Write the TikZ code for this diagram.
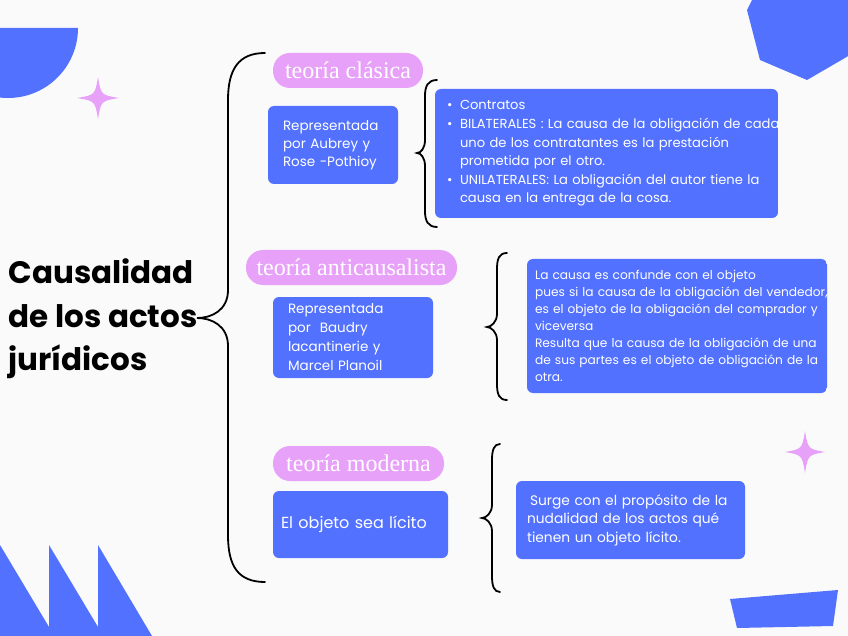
\documentclass[tikz,border=0pt]{standalone}
\usepackage{fontspec}
\setmainfont{Poppins}
\newfontfamily\labelfont{Liberation Serif}
\usepackage{tikz}
\usetikzlibrary{positioning}
\definecolor{bgcol}{HTML}{FAFAFA}
\definecolor{boxblue}{HTML}{5271FF}
\definecolor{labelpink}{HTML}{E8A1F8}

\begin{document}
\begin{tikzpicture}[
		x=1pt, y=-1pt,
		theory/.style={fill=labelpink, rounded corners=17pt, minimum height=35pt, inner sep=0pt, text=white, font=\labelfont\fontsize{24}{24}\selectfont},
		info/.style={fill=boxblue, rounded corners=6pt, text=white, align=left, inner ysep=0pt},
		brace/.style={draw=black, line width=1.8pt, line cap=round},
		deco/.style={fill=boxblue},
		sparkle/.style={fill=labelpink}
	]
	\useasboundingbox (0,0) rectangle (848,636);
	\fill[bgcol] (0,0) rectangle (848,636);

	% Decorations
	\begin{scope}
		\clip (0,0) rectangle (848,636);
		\fill[deco] (78,28) arc[start angle=0, end angle=180, radius=70] -- cycle;
		\fill[deco] (752,0) -- (747,10) -- (760,60) -- (807,80) -- (850,55) -- (850,0) -- cycle;
		\fill[deco] (0,545) -- (49,627) -- (49,545) -- (98,627) -- (98,545) -- (152,636) -- (0,636) -- cycle;
		\fill[deco] (730,599) -- (838,590) -- (833,626) -- (737,628) -- cycle;
		\fill[sparkle, shift={(98,98)}] (0,-21) .. controls (3,-3) .. (21,0) .. controls (3,3) .. (0,21) .. controls (-3,3) .. (-21,0) .. controls (-3,-3) .. (0,-21) -- cycle;
		\fill[sparkle, shift={(805,452)}] (0,-21) .. controls (3,-3) .. (20,0) .. controls (3,3) .. (0,21) .. controls (-3,3) .. (-20,0) .. controls (-3,-3) .. (0,-21) -- cycle;
	\end{scope}

	% Nodes
	\node[anchor=west, align=left, font=\fontsize{31}{43.5}\selectfont\bfseries] (title) at (5,319) {Causalidad\\de los actos\\jurídicos};

	\node[theory, minimum width=150pt] (classic) at (348,70.5) {teoría clásica};
	\node[info, text width=100pt, inner xsep=15pt, minimum height=78pt, font=\fontsize{13.5}{18}\selectfont] (aubrey) at (333,145) {Representada\\por Aubrey y\\Rose -Pothioy};
	\begin{scope}
		\clip[rounded corners=6pt] (435,89) rectangle (778,218);
		\node[info, text width=319pt, inner xsep=12pt, minimum height=129pt, font=\fontsize{13.1}{18.6}\selectfont] (contracts) at (606.5,153.5) {%
			\mbox{\makebox[13pt][l]{\textbullet}Contratos}\\
			\mbox{\makebox[13pt][l]{\textbullet}BILATERALES : La causa de la obligación de cada}\\
			\mbox{\hspace*{13pt}uno de los contratantes es la prestación}\\
			\mbox{\hspace*{13pt}prometida por el otro.}\\
			\mbox{\makebox[13pt][l]{\textbullet}UNILATERALES: La obligación del autor tiene la}\\
			\mbox{\hspace*{13pt}causa en la entrega de la cosa.}};
	\end{scope}

	\node[theory, minimum width=211pt] (anticausal) at (351.5,267.5) {teoría anticausalista};
	\node[info, text width=130pt, inner xsep=15pt, minimum height=81pt, font=\fontsize{13.5}{19}\selectfont] (baudry) at (353,337.5) {Representada\\por\ \ Baudry\\lacantinerie y\\Marcel Planoil};
	\begin{scope}
		\clip[rounded corners=6pt] (527,259) rectangle (827,393);
		\node[info, text width=284pt, inner xsep=8pt, minimum height=134pt, font=\fontsize{12.2}{17}\selectfont] (confused) at (677,326) {%
			\mbox{La causa es confunde con el objeto}\\
			\mbox{pues si la causa de la obligación del vendedor,}\\
			\mbox{es el objeto de la obligación del comprador y}\\
			\mbox{viceversa}\\
			\mbox{Resulta que la causa de la obligación de una}\\
			\mbox{de sus partes es el objeto de obligación de la}\\
			\mbox{otra.}};
	\end{scope}

	\node[theory, minimum width=171pt] (modern) at (358.5,463.5) {teoría moderna};
	\node[info, text width=159pt, inner xsep=8pt, minimum height=67pt, font=\fontsize{16}{18}\selectfont] (licit) at (360.5,524.5) {El objeto sea lícito\\[4pt]};
	\node[info, text width=207pt, inner xsep=11pt, minimum height=78pt, font=\fontsize{13.8}{18.5}\selectfont] (purpose) at (630.5,520) {%
		\mbox{\hspace*{3pt}Surge con el propósito de la}\\
		\mbox{nudalidad de los actos qué}\\
		\mbox{tienen un objeto lícito.}};

	% Braces
	\coordinate (maintip) at (197,318);
	\draw[brace] (265,53) .. controls (238,53) and (228,70) .. (228,100) -- (228,290)
		.. controls (228,310) and (212,318) .. (maintip)
		.. controls (212,318) and (228,326) .. (228,346) -- (228,535)
		.. controls (228,566) and (238,582) .. (265,582);
	\draw[brace] (437,80) .. controls (428,80) and (425,86) .. (425,96) -- (425,140)
		.. controls (425,148) and (421,153) .. (417,153)
		.. controls (421,153) and (425,158) .. (425,166) -- (425,211)
		.. controls (425,221) and (428,227) .. (437,227);
	\draw[brace] (507,253) .. controls (499,253) and (497,259) .. (497,269) -- (497,314)
		.. controls (497,322) and (491,327) .. (487,327)
		.. controls (491,327) and (497,332) .. (497,340) -- (497,384)
		.. controls (497,394) and (499,400) .. (507,400);
	\draw[brace] (500,444) .. controls (494,444) and (492,450) .. (492,460) -- (492,505)
		.. controls (492,513) and (486,518) .. (482,518)
		.. controls (486,518) and (492,523) .. (492,531) -- (492,576)
		.. controls (492,586) and (494,592) .. (500,592);
\end{tikzpicture}
\end{document}
